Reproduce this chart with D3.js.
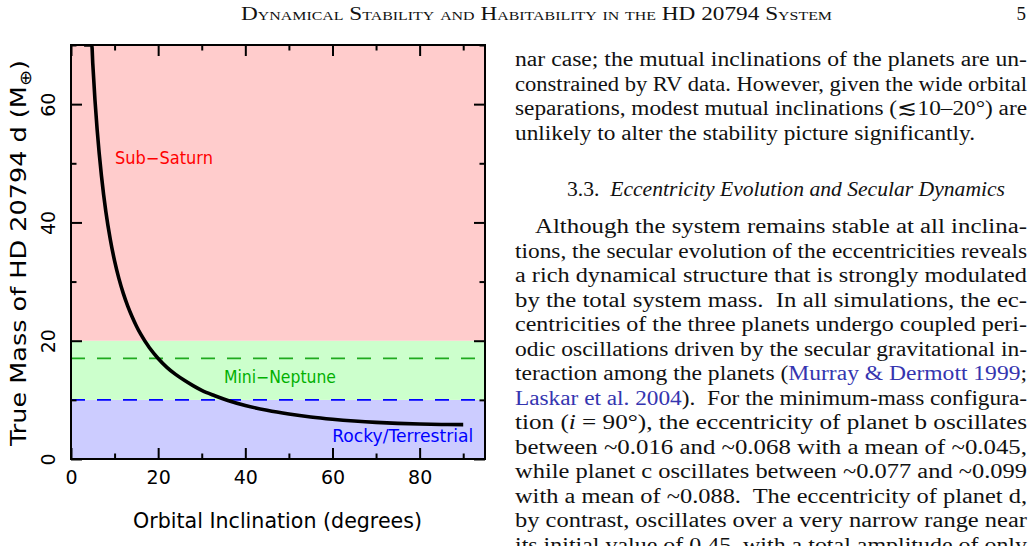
<!DOCTYPE html>
<html>
<head>
<meta charset="utf-8">
<script src="https://cdn.jsdelivr.net/npm/d3@7"></script>
<style>
  body { margin: 0; background: #fff; }
  svg { display: block; }
  .tick line { stroke: #000; stroke-width: 2; }
  .serif { font-family: "Liberation Serif", "DejaVu Serif", serif; fill: #111; }
  .sans { font-family: "DejaVu Sans", sans-serif; }
</style>
</head>
<body>
<svg id="page" width="1033" height="546"></svg>
<script>
// ---- chart data ----
var xMajor = [0, 20, 40, 60, 80];
var xMinor = [10, 30, 50, 70, 90];
var yMajor = [0, 20, 40, 60];
var yMinor = [10, 30, 50, 70];

// true mass of planet d vs orbital inclination
var inclination = [3, 4.77, 5, 5.5, 6, 7, 8, 9, 10, 11, 12, 13, 14, 15, 16, 18, 20, 22, 24, 26, 28, 30, 33, 36, 40, 45, 50, 55, 60, 65, 70, 75, 80, 85, 90];
var trueMass = [70, 70, 66.8, 60.7, 55.7, 47.8, 41.8, 37.2, 33.5, 30.5, 28.0, 25.9, 24.1, 22.5, 21.1, 18.8, 17.0, 15.5, 14.3, 13.3, 12.4, 11.6, 10.7, 9.9, 9.05, 8.23, 7.60, 7.10, 6.72, 6.42, 6.19, 6.03, 5.91, 5.84, 5.82];

// composition regimes
var bandNames = ["Rocky/Terrestrial", "Mini\u2212Neptune", "Sub\u2212Saturn"];
var bandLow = [0, 10, 20];
var bandHigh = [10, 20, 70];

// dashed reference levels
var refNames = ["i = 20", "rocky limit"];
var refLevels = [17, 10];

// ---- page text ----
var headerText = "Dynamical Stability and Habitability in the HD 20794 System";
var pageNumber = "5";
var para1 = [
  [["nar case; the mutual inclinations of the planets are un-"]],
  [["constrained by RV data. However, given the wide orbital"]],
  [["separations, modest mutual inclinations (\u227210\u201320\u00b0) are"]],
  [["unlikely to alter the stability picture significantly."]]
];
var heading = [["3.3.  "], ["Eccentricity Evolution and Secular Dynamics", "i"]];
var para2 = [
  [["Although the system remains stable at all inclina-"]],
  [["tions, the secular evolution of the eccentricities reveals"]],
  [["a rich dynamical structure that is strongly modulated"]],
  [["by the total system mass.  In all simulations, the ec-"]],
  [["centricities of the three planets undergo coupled peri-"]],
  [["odic oscillations driven by the secular gravitational in-"]],
  [["teraction among the planets ("], ["Murray & Dermott 1999", "l"], [";"]],
  [["Laskar et al. 2004", "l"], [").  For the minimum-mass configura-"]],
  [["tion ("], ["i", "i"], [" = 90\u00b0), the eccentricity of planet b oscillates"]],
  [["between ~0.016 and ~0.068 with a mean of ~0.045,"]],
  [["while planet c oscillates between ~0.077 and ~0.099"]],
  [["with a mean of ~0.088.  The eccentricity of planet d,"]],
  [["by contrast, oscillates over a very narrow range near"]],
  [["its initial value of 0.45, with a total amplitude of only"]]
];

var svg = d3.select("#page");

// ---- plot frame ----
var x = d3.scaleLinear().domain([0, 95]).range([71, 485]);
var y = d3.scaleLinear().domain([0, 70]).range([459, 45]);

var bandColor = d3.scaleOrdinal().domain(bandNames).range(["#ccccff", "#ccffcc", "#ffcccc"]);
var labelColor = d3.scaleOrdinal().domain(bandNames).range(["#0000ff", "#00b000", "#ff0000"]);
var refColor = d3.scaleOrdinal().domain(refNames).range(["#1faa1f", "#0000ff"]);

svg.append("clipPath").attr("id", "plotclip")
  .append("rect")
  .attr("x", x(0)).attr("y", y(70))
  .attr("width", x(95) - x(0)).attr("height", y(0) - y(70));

//background regimes
svg.selectAll("rect.band")
  .data(bandNames)
  .enter().append("rect")
  .attr("class", "band")
  .attr("x", x(0))
  .attr("width", x(95) - x(0))
  .attr("y", (d, i) => y(bandHigh[i]))
  .attr("height", (d, i) => y(bandLow[i]) - y(bandHigh[i]))
  .attr("fill", d => bandColor(d));

//dashed levels
svg.selectAll("line.ref")
  .data(refNames)
  .enter().append("line")
  .attr("class", "ref")
  .attr("x1", x(0)).attr("x2", x(95))
  .attr("y1", (d, i) => y(refLevels[i]))
  .attr("y2", (d, i) => y(refLevels[i]))
  .attr("stroke", d => refColor(d))
  .attr("stroke-width", 1.8)
  .attr("stroke-dasharray", "14,12");

//mass curve
var pts = inclination.map((v, i) => [v, trueMass[i]]);
svg.append("path")
  .datum(pts)
  .attr("clip-path", "url(#plotclip)")
  .attr("fill", "none")
  .attr("stroke", "#000")
  .attr("stroke-width", 3.6)
  .attr("d", d3.line().x(d => x(d[0])).y(d => y(d[1])).curve(d3.curveMonotoneX));

//regime labels
var labelPos = {
  "Sub\u2212Saturn": [10.1, 49.9, "start", 98],
  "Mini\u2212Neptune": [35.1, 12.8, "start", 112],
  "Rocky/Terrestrial": [92.3, 2.9, "end", 141]
};
svg.selectAll("text.band-label")
  .data(bandNames)
  .enter().append("text")
  .attr("class", "band-label sans")
  .attr("x", d => x(labelPos[d][0]))
  .attr("y", d => y(labelPos[d][1]))
  .attr("text-anchor", d => labelPos[d][2])
  .attr("textLength", d => labelPos[d][3])
  .attr("lengthAdjust", "spacingAndGlyphs")
  .style("font-size", "17px")
  .attr("fill", d => labelColor(d))
  .text(d => d);

// ---- axes, ticks inward on all four sides ----
function tickAxis(axis, tr, vals, size, fmt) {
  var g = svg.append("g")
    .attr("transform", tr)
    .call(axis.tickValues(vals).tickSizeInner(size).tickSizeOuter(0).tickPadding(12).tickFormat(fmt))
    .style("font-size", "19px")
    .style("font-family", "DejaVu Sans, sans-serif");
  g.select(".domain").remove();
  g.selectAll("text").attr("fill", "#000");
  return g;
}
tickAxis(d3.axisBottom(x), "translate(0," + y(0) + ")", xMajor, -11, d3.format("d"));
tickAxis(d3.axisBottom(x), "translate(0," + y(0) + ")", xMinor, -5.5, () => "");
tickAxis(d3.axisTop(x), "translate(0," + y(70) + ")", xMajor, -11, () => "");
tickAxis(d3.axisTop(x), "translate(0," + y(70) + ")", xMinor, -5.5, () => "");
tickAxis(d3.axisRight(y), "translate(" + x(95) + ",0)", yMajor, -11, () => "");
tickAxis(d3.axisRight(y), "translate(" + x(95) + ",0)", yMinor, -5.5, () => "");
tickAxis(d3.axisLeft(y), "translate(" + x(0) + ",0)", yMinor, -5.5, () => "");
var yl = tickAxis(d3.axisLeft(y), "translate(" + x(0) + ",0)", yMajor, -11, d3.format("d"));
//rotate left tick labels parallel to the axis
yl.selectAll("text")
  .attr("x", null).attr("dy", null)
  .attr("text-anchor", "middle")
  .attr("transform", "translate(-16,0) rotate(-90)");

svg.append("rect")
  .attr("x", x(0)).attr("y", y(70))
  .attr("width", x(95) - x(0)).attr("height", y(0) - y(70))
  .attr("fill", "none")
  .attr("stroke", "#000")
  .attr("stroke-width", 2);

//axis titles
svg.append("text")
  .attr("class", "sans")
  .attr("x", 277.5).attr("y", 528)
  .attr("text-anchor", "middle")
  .attr("textLength", 289)
  .attr("lengthAdjust", "spacingAndGlyphs")
  .style("font-size", "21px")
  .text("Orbital Inclination (degrees)");

var yt = svg.append("text")
  .attr("class", "sans")
  .attr("transform", "translate(26,253) rotate(-90)")
  .attr("text-anchor", "middle")
  .attr("textLength", 386)
  .attr("lengthAdjust", "spacingAndGlyphs")
  .style("font-size", "21px");
yt.append("tspan").text("True Mass of HD 20794 d (M");
yt.append("tspan").attr("dy", 5).style("font-size", "16px").text("\u2295");
yt.append("tspan").attr("dy", -5).text(")");

// ---- running head ----
svg.append("text")
  .attr("class", "serif")
  .attr("x", 241).attr("y", 20)
  .attr("textLength", 591)
  .attr("lengthAdjust", "spacingAndGlyphs")
  .style("font-size", "19px")
  .style("font-variant", "small-caps")
  .text(headerText);
svg.append("text")
  .attr("class", "serif")
  .attr("x", 1026).attr("y", 20)
  .attr("text-anchor", "end")
  .style("font-size", "19px")
  .text(pageNumber);

// ---- text column ----
function textLine(segs, x0, x1, base) {
  var t = svg.append("text")
    .attr("class", "serif")
    .attr("x", x0).attr("y", base)
    .attr("xml:space", "preserve")
    .style("font-size", "20.5px");
  segs.forEach(s => {
    var sp = t.append("tspan").text(s[0]);
    if (s[1] === "i") sp.style("font-style", "italic");
    if (s[1] === "l") sp.attr("fill", "#3535b0");
  });
  if (x1) t.attr("textLength", x1 - x0).attr("lengthAdjust", "spacingAndGlyphs");
  return t;
}

var lead = 24.5;
para1.forEach((segs, i) => {
  var last = i === para1.length - 1;
  textLine(segs, 515, last ? 975 : 1027, 66 + i * lead);
});
textLine(heading, 567, 1005, 196);
para2.forEach((segs, i) => {
  textLine(segs, i === 0 ? 535 : 515, 1027, 233 + i * lead);
});
</script>
</body>
</html>
